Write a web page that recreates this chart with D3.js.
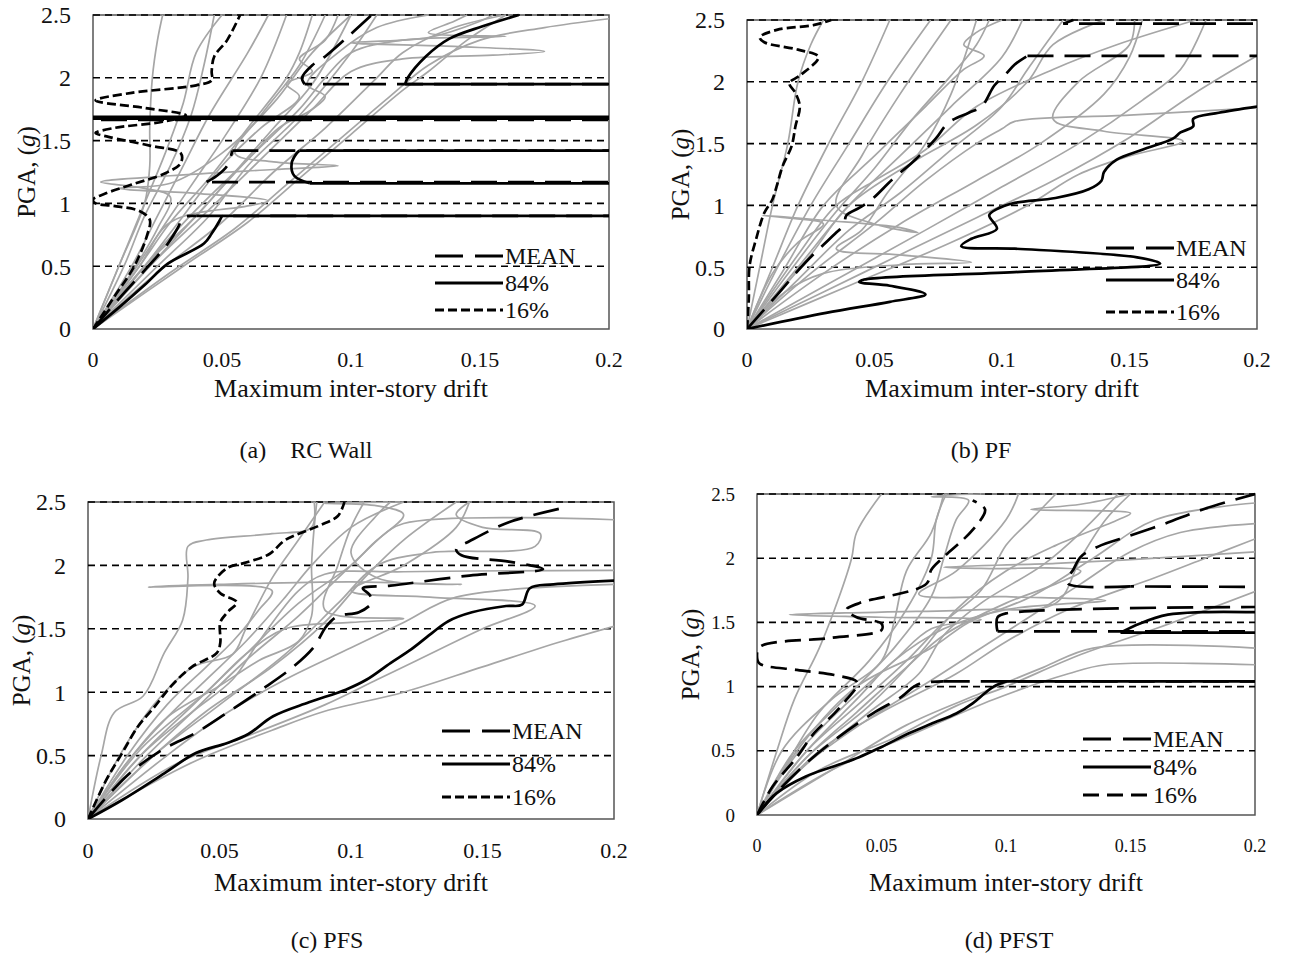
<!DOCTYPE html>
<html>
<head>
<meta charset="utf-8">
<script src="https://cdn.jsdelivr.net/npm/d3@7"></script>
<style>
  body { margin: 0; background: #fff; }
  svg text { font-family: "Liberation Serif", "Times New Roman", serif; fill: #111; }
</style>
</head>
<body>
<script>
// ---- data: [drift, PGA(g)] pairs, drift values > 0.2 run off the plot ----

var driftTicks = [0, 0.05, 0.1, 0.15, 0.2]
var pgaTicks = [0, 0.5, 1, 1.5, 2, 2.5]
var legendLabels = ["MEAN", "84%", "16%"]
var captions = ["(a)    RC Wall", "(b) PF", "(c) PFS", "(d) PFST"]

// (a) RC Wall
var rcWallRecords = [
  [[0,0],[0.01,0.5],[0.02,1.0],[0.022,1.3],[0.022,1.6],[0.023,2.0],[0.025,2.3],[0.027,2.5]],
  [[0,0],[0.012,0.5],[0.02,0.9],[0.03,1.3],[0.038,1.7],[0.043,2.1],[0.047,2.5]],
  [[0,0],[0.015,0.5],[0.025,0.9],[0.035,1.3],[0.045,1.7],[0.06,2.2],[0.068,2.5]],
  [[0,0],[0.017,0.5],[0.03,0.9],[0.04,1.2],[0.05,1.5],[0.065,2.0],[0.075,2.5]],
  [[0,0],[0.018,0.5],[0.03,0.85],[0.045,1.2],[0.06,1.6],[0.075,2.0],[0.08,2.2],[0.085,2.5]],
  [[0,0],[0.02,0.5],[0.035,0.9],[0.05,1.3],[0.065,1.6],[0.08,1.85],[0.075,1.95],[0.085,2.05],[0.08,2.15],[0.09,2.3],[0.095,2.5]],
  [[0,0],[0.02,0.5],[0.04,0.9],[0.055,1.25],[0.07,1.6],[0.085,1.95],[0.1,2.5]],
  [[0,0],[0.015,0.45],[0.025,0.8],[0.03,1.05],[0.02,1.12],[0.003,1.17],[0.03,1.22],[0.07,1.27],[0.095,1.3],[0.07,1.33],[0.055,1.4],[0.065,1.7],[0.08,2.1],[0.09,2.5]],
  [[0,0],[0.018,0.5],[0.03,0.85],[0.06,0.98],[0.068,1.02],[0.04,1.08],[0.01,1.12],[0.03,1.16],[0.05,1.4],[0.07,1.8],[0.085,2.2],[0.1,2.5]],
  [[0,0],[0.025,0.5],[0.045,0.9],[0.06,1.3],[0.08,1.7],[0.1,2.2],[0.11,2.5]],
  [[0,0],[0.025,0.45],[0.05,0.85],[0.07,1.25],[0.09,1.6],[0.11,2.0],[0.12,2.2],[0.14,2.4],[0.16,2.5]],
  [[0,0],[0.03,0.45],[0.055,0.8],[0.075,1.15],[0.095,1.5],[0.115,1.85],[0.13,2.1],[0.15,2.3],[0.175,2.4],[0.2,2.47]],
  [[0,0],[0.022,0.5],[0.045,0.95],[0.065,1.35],[0.085,1.75],[0.1,2.05],[0.12,2.15],[0.155,2.18],[0.175,2.21],[0.14,2.25],[0.1,2.28],[0.13,2.32],[0.15,2.45],[0.155,2.5]],
  [[0,0],[0.035,0.5],[0.06,0.85],[0.08,1.2],[0.1,1.55],[0.12,1.9],[0.13,2.05],[0.145,2.3],[0.16,2.5]],
  [[0,0],[0.02,0.5],[0.04,0.95],[0.06,1.35],[0.072,1.6],[0.085,1.75],[0.09,1.85],[0.083,1.95],[0.095,2.2],[0.11,2.4],[0.13,2.5]],
  [[0,0],[0.01,0.5],[0.02,1.0],[0.028,1.4],[0.035,1.8],[0.04,2.2],[0.05,2.5]],
  [[0,0],[0.022,0.5],[0.04,0.9],[0.06,1.35],[0.08,1.75],[0.09,2.0],[0.1,2.2],[0.12,2.3],[0.16,2.33],[0.13,2.36],[0.14,2.45],[0.145,2.5]]
]
var rcWallMean = [[0,0],[0.01,0.24],[0.021,0.49],[0.029,0.68],[0.033,0.81],[0.035,0.89],[0.04,0.9],[0.3,0.9],[0.3,1.17],[0.044,1.17],[0.048,1.22],[0.052,1.3],[0.054,1.42],[0.3,1.42],[0.3,1.665],[0,1.665],[0,1.68],[0.3,1.68],[0.3,1.95],[0.082,1.95],[0.081,2.0],[0.085,2.1],[0.09,2.17],[0.1,2.35],[0.108,2.5]]
var rcWall84 = [[0,0],[0.01,0.17],[0.02,0.35],[0.029,0.52],[0.043,0.68],[0.046,0.76],[0.049,0.86],[0.05,0.9],[0.3,0.9],[0.3,1.16],[0.084,1.16],[0.078,1.22],[0.077,1.32],[0.079,1.4],[0.08,1.42],[0.3,1.42],[0.3,1.675],[0,1.675],[0,1.69],[0.3,1.69],[0.3,1.95],[0.121,1.95],[0.122,2.0],[0.129,2.17],[0.138,2.31],[0.151,2.41],[0.165,2.5]]
var rcWall16 = [[0,0],[0.008,0.25],[0.016,0.5],[0.021,0.75],[0.022,0.87],[0.018,0.94],[0.008,0.98],[0.001,1.0],[0,1.03],[0.005,1.08],[0.015,1.15],[0.028,1.24],[0.034,1.32],[0.034,1.4],[0.022,1.46],[0.006,1.53],[0.001,1.56],[0.008,1.6],[0.027,1.65],[0.036,1.7],[0.02,1.76],[0.001,1.82],[0.015,1.88],[0.04,1.94],[0.046,1.98],[0.046,2.05],[0.047,2.17],[0.052,2.3],[0.057,2.5]]

// (b) PF
var pfRecords = [
  [[0,0],[0.005,0.5],[0.01,1.0],[0.016,1.5],[0.02,2.0],[0.025,2.3],[0.03,2.5]],
  [[0,0],[0.01,0.5],[0.02,1.0],[0.032,1.5],[0.045,2.0],[0.056,2.5]],
  [[0,0],[0.012,0.5],[0.025,1.0],[0.04,1.5],[0.055,2.0],[0.072,2.5]],
  [[0,0],[0.01,0.45],[0.02,0.7],[0.03,0.85],[0.015,0.9],[0.006,0.92],[0.03,0.88],[0.06,0.82],[0.067,0.78],[0.05,0.85],[0.035,1.0],[0.045,1.4],[0.06,1.9],[0.08,2.5]],
  [[0,0],[0.015,0.3],[0.03,0.45],[0.06,0.52],[0.088,0.54],[0.06,0.6],[0.035,0.65],[0.045,0.8],[0.055,1.1],[0.07,1.5],[0.08,1.9],[0.09,2.5]],
  [[0,0],[0.015,0.5],[0.03,1.0],[0.05,1.4],[0.07,1.8],[0.085,2.1],[0.093,2.21],[0.085,2.3],[0.09,2.4],[0.1,2.5]],
  [[0,0],[0.02,0.5],[0.04,1.0],[0.06,1.4],[0.08,1.8],[0.1,2.2],[0.108,2.5]],
  [[0,0],[0.02,0.4],[0.04,0.8],[0.06,1.1],[0.08,1.45],[0.1,1.8],[0.11,2.1],[0.124,2.5]],
  [[0,0],[0.025,0.45],[0.05,0.85],[0.07,1.2],[0.09,1.5],[0.1,1.62],[0.105,1.68],[0.15,1.73],[0.2,1.79]],
  [[0,0],[0.03,0.45],[0.06,0.85],[0.09,1.2],[0.115,1.5],[0.14,1.9],[0.15,2.2],[0.155,2.5]],
  [[0,0],[0.035,0.4],[0.07,0.8],[0.1,1.15],[0.13,1.5],[0.155,1.85],[0.17,2.1],[0.18,2.5]],
  [[0,0],[0.04,0.35],[0.08,0.7],[0.11,1.0],[0.13,1.25],[0.15,1.4],[0.171,1.52],[0.14,1.6],[0.12,1.7],[0.13,2.0],[0.15,2.3],[0.152,2.5]],
  [[0,0],[0.03,0.3],[0.06,0.6],[0.09,0.9],[0.12,1.2],[0.15,1.55],[0.175,1.9],[0.2,2.21]],
  [[0,0],[0.018,0.5],[0.035,0.95],[0.05,1.3],[0.065,1.7],[0.08,2.05],[0.09,2.3],[0.095,2.5]],
  [[0,0],[0.025,0.6],[0.04,1.0],[0.065,1.35],[0.09,1.65],[0.11,2.0],[0.12,2.3],[0.14,2.5]],
  [[0,0],[0.02,0.6],[0.035,1.0],[0.05,1.2],[0.07,1.45],[0.09,1.8],[0.12,2.1],[0.145,2.3],[0.176,2.5]]
]
var pfMean = [[0,0],[0.012,0.28],[0.023,0.54],[0.035,0.78],[0.038,0.84],[0.039,0.92],[0.044,0.98],[0.049,1.05],[0.057,1.21],[0.066,1.37],[0.074,1.54],[0.079,1.67],[0.087,1.75],[0.092,1.8],[0.097,1.97],[0.101,2.05],[0.105,2.14],[0.11,2.21],[0.3,2.21],[0.3,2.47],[0.124,2.47],[0.128,2.5]]
var pf84 = [[0,0],[0.031,0.13],[0.056,0.22],[0.07,0.28],[0.056,0.35],[0.044,0.38],[0.046,0.4],[0.105,0.46],[0.162,0.53],[0.153,0.58],[0.105,0.65],[0.084,0.67],[0.088,0.73],[0.098,0.81],[0.095,0.92],[0.098,0.97],[0.105,1.02],[0.121,1.06],[0.134,1.13],[0.139,1.2],[0.14,1.27],[0.145,1.37],[0.155,1.45],[0.167,1.54],[0.17,1.59],[0.175,1.64],[0.175,1.7],[0.185,1.75],[0.2,1.8]]
var pf16 = [[0,0],[0.0007,0.24],[0.001,0.51],[0.0036,0.73],[0.0068,0.94],[0.01,1.05],[0.0117,1.16],[0.014,1.32],[0.0175,1.48],[0.019,1.64],[0.0207,1.8],[0.019,1.91],[0.0166,1.99],[0.0207,2.05],[0.028,2.2],[0.02,2.26],[0.0068,2.32],[0.005,2.36],[0.0117,2.42],[0.0264,2.46],[0.033,2.5]]

// (c) PFS
var pfsRecords = [
  [[0,0],[0.005,0.5],[0.01,0.84],[0.021,0.97],[0.029,1.31],[0.036,1.57],[0.038,1.9],[0.038,2.15],[0.045,2.2],[0.07,2.25],[0.085,2.3],[0.086,2.5]],
  [[0,0],[0.015,0.5],[0.03,0.9],[0.045,1.2],[0.055,1.4],[0.065,1.65],[0.07,1.8],[0.023,1.83],[0.05,1.85],[0.1,1.87],[0.142,1.85],[0.11,1.9],[0.1,2.1],[0.11,2.4],[0.115,2.5]],
  [[0,0],[0.015,0.45],[0.03,0.8],[0.045,1.1],[0.06,1.4],[0.075,1.75],[0.085,2.0],[0.1,2.3],[0.12,2.5]],
  [[0,0],[0.02,0.5],[0.04,0.9],[0.06,1.3],[0.08,1.7],[0.1,2.0],[0.11,2.2],[0.12,2.33],[0.2,2.36]],
  [[0,0],[0.02,0.45],[0.04,0.85],[0.06,1.25],[0.08,1.6],[0.095,1.9],[0.11,2.2],[0.12,2.4],[0.11,2.47],[0.09,2.49],[0.12,2.5]],
  [[0,0],[0.015,0.45],[0.03,0.8],[0.05,1.05],[0.065,1.25],[0.08,1.4],[0.085,1.6],[0.085,2.0],[0.086,2.3],[0.087,2.5]],
  [[0,0],[0.025,0.5],[0.045,0.85],[0.07,1.2],[0.09,1.55],[0.105,1.9],[0.12,2.2],[0.14,2.5]],
  [[0,0],[0.02,0.5],[0.04,0.85],[0.055,1.1],[0.065,1.4],[0.08,1.8],[0.09,1.93],[0.12,1.95],[0.2,1.96]],
  [[0,0],[0.025,0.5],[0.05,0.9],[0.075,1.3],[0.095,1.7],[0.11,2.0],[0.13,2.1],[0.17,2.15],[0.172,2.25],[0.15,2.3],[0.14,2.4],[0.145,2.5]],
  [[0,0],[0.04,0.45],[0.07,0.7],[0.09,0.85],[0.12,1.0],[0.15,1.2],[0.18,1.4],[0.2,1.52]],
  [[0,0],[0.035,0.45],[0.06,0.65],[0.09,0.9],[0.11,1.1],[0.125,1.25],[0.15,1.5],[0.17,1.68],[0.13,1.75],[0.1,1.8],[0.12,2.0],[0.14,2.3],[0.145,2.5]],
  [[0,0],[0.02,0.55],[0.045,1.0],[0.06,1.3],[0.075,1.5],[0.1,1.55],[0.12,1.58],[0.09,1.65],[0.095,2.0],[0.1,2.3],[0.105,2.5]],
  [[0,0],[0.012,0.5],[0.025,0.9],[0.04,1.2],[0.055,1.3],[0.06,1.5],[0.07,1.9],[0.08,2.2],[0.09,2.5]],
  [[0,0],[0.03,0.5],[0.05,0.8],[0.075,1.1],[0.1,1.35],[0.12,1.55],[0.14,1.75],[0.2,1.85]]
]
var pfsMean = [[0,0],[0.0147,0.34],[0.0286,0.55],[0.041,0.68],[0.053,0.84],[0.066,1.02],[0.078,1.2],[0.086,1.36],[0.0906,1.52],[0.095,1.6],[0.103,1.63],[0.108,1.71],[0.107,1.77],[0.1045,1.82],[0.115,1.84],[0.145,1.92],[0.173,1.97],[0.16,2.03],[0.142,2.08],[0.14,2.13],[0.145,2.19],[0.16,2.34],[0.182,2.46]]
var pfs84 = [[0,0],[0.013,0.15],[0.029,0.36],[0.041,0.52],[0.053,0.6],[0.061,0.67],[0.0704,0.81],[0.084,0.92],[0.098,1.02],[0.106,1.1],[0.115,1.23],[0.123,1.34],[0.131,1.47],[0.137,1.56],[0.146,1.63],[0.159,1.68],[0.165,1.69],[0.168,1.82],[0.177,1.85],[0.2,1.88]]
var pfs16 = [[0,0],[0.007,0.31],[0.013,0.52],[0.019,0.73],[0.0255,0.89],[0.0317,1.05],[0.0395,1.2],[0.049,1.31],[0.0503,1.39],[0.0503,1.55],[0.053,1.63],[0.0565,1.71],[0.0503,1.78],[0.048,1.86],[0.053,1.98],[0.0596,2.02],[0.069,2.09],[0.075,2.2],[0.0875,2.31],[0.095,2.39],[0.0975,2.5]]

// (d) PFST
var pfstRecords = [
  [[0,0],[0.008,0.5],[0.015,0.9],[0.025,1.3],[0.033,1.7],[0.038,2.0],[0.04,2.2],[0.05,2.5]],
  [[0,0],[0.01,0.5],[0.03,0.9],[0.05,1.2],[0.055,1.5],[0.06,1.9],[0.07,2.2],[0.075,2.5]],
  [[0,0],[0.015,0.45],[0.035,0.85],[0.055,1.2],[0.07,1.45],[0.09,1.52],[0.05,1.54],[0.013,1.56],[0.05,1.58],[0.09,1.6],[0.12,1.65],[0.13,2.0],[0.14,2.3],[0.15,2.5]],
  [[0,0],[0.015,0.5],[0.035,0.9],[0.055,1.3],[0.07,1.7],[0.075,2.0],[0.08,2.3],[0.085,2.45],[0.07,2.48],[0.09,2.5]],
  [[0,0],[0.02,0.5],[0.04,0.85],[0.06,1.2],[0.075,1.5],[0.09,1.75],[0.1,2.1],[0.11,2.3],[0.12,2.5]],
  [[0,0],[0.02,0.45],[0.045,0.85],[0.065,1.25],[0.08,1.6],[0.1,1.9],[0.12,2.1],[0.145,2.3],[0.15,2.35],[0.11,2.38],[0.13,2.42],[0.15,2.5]],
  [[0,0],[0.02,0.4],[0.045,0.75],[0.07,1.05],[0.09,1.3],[0.11,1.55],[0.13,1.8],[0.15,2.05],[0.17,2.2],[0.2,2.27]],
  [[0,0],[0.03,0.35],[0.06,0.7],[0.09,0.95],[0.115,1.15],[0.135,1.3],[0.2,1.3]],
  [[0,0],[0.03,0.35],[0.065,0.65],[0.095,0.9],[0.125,1.1],[0.14,1.17],[0.2,1.17]],
  [[0,0],[0.025,0.35],[0.055,0.6],[0.08,0.85],[0.1,1.0],[0.13,1.25],[0.16,1.45],[0.2,1.74]],
  [[0,0],[0.02,0.45],[0.04,0.8],[0.06,1.15],[0.075,1.4],[0.1,1.65],[0.12,1.8],[0.13,1.9],[0.09,1.92],[0.075,1.93],[0.12,1.96],[0.16,2.0],[0.2,2.05]],
  [[0,0],[0.02,0.4],[0.045,0.8],[0.065,1.1],[0.075,1.4],[0.09,1.65],[0.115,1.95],[0.13,2.2],[0.145,2.5]],
  [[0,0],[0.02,0.5],[0.04,0.9],[0.055,1.2],[0.075,1.45],[0.1,1.6],[0.14,1.67],[0.1,1.7],[0.065,1.72],[0.08,1.9],[0.1,2.3],[0.105,2.5]],
  [[0,0],[0.025,0.5],[0.05,0.8],[0.08,1.1],[0.1,1.35],[0.125,1.6],[0.16,1.85],[0.18,2.0],[0.2,2.15]],
  [[0,0],[0.012,0.4],[0.025,0.8],[0.045,1.2],[0.06,1.6],[0.07,2.0],[0.072,2.3],[0.076,2.5]],
  [[0,0],[0.018,0.55],[0.04,1.0],[0.07,1.3],[0.085,1.5],[0.11,1.7],[0.135,2.0],[0.16,2.3],[0.2,2.43]]
]
var pfstMean = [[0,0],[0.0062,0.14],[0.0196,0.4],[0.033,0.61],[0.0464,0.79],[0.058,0.92],[0.063,1.0],[0.0665,1.03],[0.075,1.04],[0.3,1.04],[0.3,1.43],[0.0966,1.43],[0.0962,1.48],[0.0966,1.54],[0.1,1.57],[0.2,1.62],[0.3,1.62],[0.3,1.77],[0.15,1.78],[0.125,1.8],[0.125,1.85],[0.127,1.91],[0.13,2.01],[0.137,2.09],[0.149,2.17],[0.164,2.27],[0.179,2.38],[0.2,2.5]]
var pfst84 = [[0,0],[0.0079,0.17],[0.0196,0.3],[0.031,0.38],[0.041,0.45],[0.05,0.53],[0.0615,0.64],[0.07,0.71],[0.08,0.79],[0.0866,0.87],[0.0916,0.95],[0.095,1.0],[0.1,1.04],[0.3,1.04],[0.3,1.42],[0.146,1.42],[0.1536,1.49],[0.165,1.56],[0.179,1.58],[0.2,1.58]]
var pfst16 = [[0,0],[0.0062,0.22],[0.016,0.45],[0.023,0.64],[0.031,0.79],[0.036,0.9],[0.04,1.0],[0.04,1.04],[0.031,1.09],[0.016,1.13],[0.001,1.18],[0,1.24],[0.0012,1.31],[0.03,1.38],[0.05,1.44],[0.05,1.49],[0.04,1.54],[0.036,1.6],[0.041,1.65],[0.068,1.8],[0.07,1.91],[0.075,2.01],[0.0866,2.22],[0.0916,2.38],[0.0866,2.45]]

// ---- layout ----
var panels = [
  { records: rcWallRecords, mean: rcWallMean, p84: rcWall84, p16: rcWall16,
    x0: 93, x1: 609, yTop: 15, yBot: 329, xtSize: 22, ytSize: 24, dash16: "9,4",
    legX: 435, legY: 256, legStep: 27, capX: 306, capY: 458, titleY: 397, tickY: 367, ytX: 26 },
  { records: pfRecords, mean: pfMean, p84: pf84, p16: pf16,
    x0: 747, x1: 1257, yTop: 20, yBot: 329, xtSize: 22, ytSize: 24, dash16: "9,4",
    legX: 1106, legY: 248, legStep: 32, capX: 981, capY: 458, titleY: 397, tickY: 367, ytX: 680 },
  { records: pfsRecords, mean: pfsMean, p84: pfs84, p16: pfs16,
    x0: 88, x1: 614, yTop: 502, yBot: 819, xtSize: 22, ytSize: 24, dash16: "9,4",
    legX: 442, legY: 731, legStep: 33, capX: 327, capY: 948, titleY: 891, tickY: 858, ytX: 21 },
  { records: pfstRecords, mean: pfstMean, p84: pfst84, p16: pfst16,
    x0: 757, x1: 1255, yTop: 494, yBot: 815, xtSize: 18, ytSize: 19, dash16: "16,8",
    legX: 1083, legY: 739, legStep: 28, capX: 1009, capY: 948, titleY: 891, tickY: 852, ytX: 690 }
]

// pieces of a statistic line: smooth runs inside the plot,
// straight runs wherever a point lies off the right edge
function splitOffChart(pts) {
  var out = []
  var run = [pts[0]]
  for (var k = 1; k < pts.length; k++) {
    var a = pts[k - 1], b = pts[k]
    if (a[0] > 0.2 || b[0] > 0.2) {
      if (run.length > 1) out.push({ pts: run, smooth: true })
      out.push({ pts: [a, b], smooth: false })
      run = [b]
    } else {
      run.push(b)
    }
  }
  if (run.length > 1) out.push({ pts: run, smooth: true })
  return out
}

var svg = d3.select("body").append("svg")
  .attr("width", 1291).attr("height", 960)

panels.forEach(function(p, i) {
  var x = d3.scaleLinear().domain([0, 0.2]).range([p.x0, p.x1])
  var y = d3.scaleLinear().domain([0, 2.5]).range([p.yBot, p.yTop])
  var g = svg.append("g")

  g.append("clipPath").attr("id", "clip" + i)
    .append("rect")
      .attr("x", p.x0).attr("y", p.yTop - 2)
      .attr("width", p.x1 - p.x0).attr("height", p.yBot - p.yTop + 2)

  // frame
  g.append("rect")
    .attr("x", p.x0).attr("y", p.yTop)
    .attr("width", p.x1 - p.x0).attr("height", p.yBot - p.yTop)
    .style("fill", "none").style("stroke", "#555").style("stroke-width", 1.5)

  // dashed grid
  g.selectAll("line.grid")
    .data(pgaTicks.filter(function(d) { return d > 0 }))
    .enter().append("line").classed("grid", true)
      .attr("x1", p.x0).attr("x2", p.x1)
      .attr("y1", function(d) { return y(d) }).attr("y2", function(d) { return y(d) })
      .style("stroke", "#000").style("stroke-width", 1.6)
      .style("stroke-dasharray", "7,5")

  var line = d3.line()
    .x(function(d) { return x(d[0]) })
    .y(function(d) { return y(d[1]) })
    .curve(d3.curveCatmullRom.alpha(0.5))
  var straight = d3.line()
    .x(function(d) { return x(d[0]) })
    .y(function(d) { return y(d[1]) })

  var plot = g.append("g").attr("clip-path", "url(#clip" + i + ")")

  plot.selectAll("path.rec")
    .data(p.records)
    .enter().append("path").classed("rec", true)
      .attr("d", line)
      .style("fill", "none").style("stroke", "#a6a6a6").style("stroke-width", 1.7)

  var stats = [
    { pts: p.mean, dash: "26,11" },
    { pts: p.p84, dash: null },
    { pts: p.p16, dash: p.dash16 }
  ]
  var segs = []
  stats.forEach(function(s) {
    splitOffChart(s.pts).forEach(function(seg) { seg.dash = s.dash; segs.push(seg) })
  })
  plot.selectAll("path.stat")
    .data(segs)
    .enter().append("path").classed("stat", true)
      .attr("d", function(d) { return d.smooth ? line(d.pts) : straight(d.pts) })
      .style("fill", "none").style("stroke", "#000").style("stroke-width", 2.7)
      .style("stroke-dasharray", function(d) { return d.dash })

  // axes labels
  g.selectAll("text.xt")
    .data(driftTicks)
    .enter().append("text").classed("xt", true)
      .attr("x", function(d) { return x(d) }).attr("y", p.tickY)
      .attr("text-anchor", "middle")
      .style("font-size", p.xtSize + "px")
      .text(function(d) { return d })

  g.selectAll("text.yt")
    .data(pgaTicks)
    .enter().append("text").classed("yt", true)
      .attr("x", p.x0 - 22).attr("y", function(d) { return y(d) })
      .attr("dy", "0.35em")
      .attr("text-anchor", "end")
      .style("font-size", p.ytSize + "px")
      .text(function(d) { return d })

  g.append("text")
    .attr("x", (p.x0 + p.x1) / 2).attr("y", p.titleY)
    .attr("text-anchor", "middle")
    .style("font-size", "26px")
    .text("Maximum inter-story drift")

  var yt = g.append("text")
    .attr("transform", "translate(" + p.ytX + "," + ((p.yTop + p.yBot) / 2) + ") rotate(-90)")
    .attr("text-anchor", "middle")
    .attr("dy", "0.35em")
    .style("font-size", "25px")
  yt.append("tspan").text("PGA, (")
  yt.append("tspan").style("font-style", "italic").text("g")
  yt.append("tspan").text(")")

  // legend
  var leg = g.selectAll("g.leg")
    .data(legendLabels)
    .enter().append("g").classed("leg", true)
      .attr("transform", function(d, k) { return "translate(" + p.legX + "," + (p.legY + k * p.legStep) + ")" })
  leg.append("line")
    .attr("x1", 0).attr("x2", 68)
    .style("stroke", "#000").style("stroke-width", 3)
    .style("stroke-dasharray", function(d, k) { return [ "28,12", null, p.dash16 ][k] })
  leg.append("text")
    .attr("x", 70).attr("dy", "0.35em")
    .style("font-size", "24px")
    .text(function(d) { return d })

  svg.append("text")
    .attr("x", p.capX).attr("y", p.capY)
    .attr("text-anchor", "middle")
    .style("font-size", "24px")
    .style("white-space", "pre")
    .text(captions[i])
})
</script>
</body>
</html>
